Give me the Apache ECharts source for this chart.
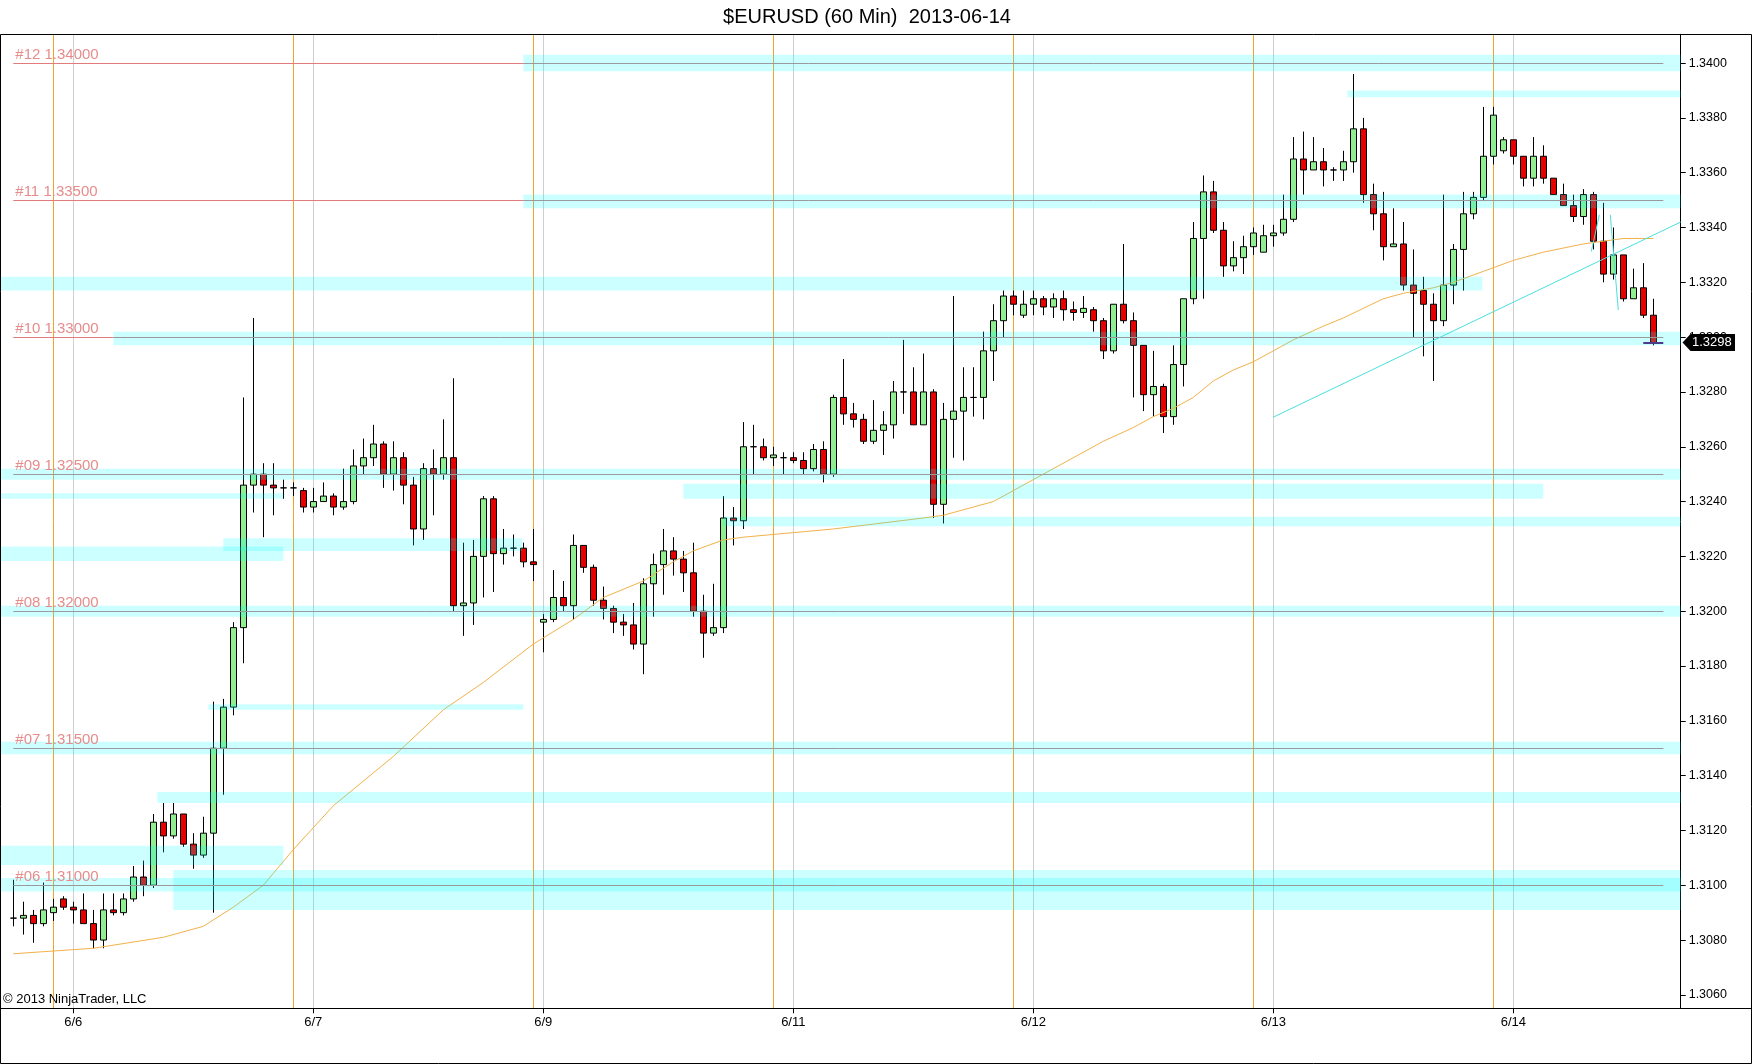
<!DOCTYPE html>
<html>
<head>
<meta charset="utf-8">
<script src="https://cdn.jsdelivr.net/npm/echarts@6/dist/echarts.min.js"></script>
<style>
html,body{margin:0;padding:0;background:#fff;}
#c{width:1752px;height:1064px;}
</style>
</head>
<body>
<div id="c"></div>
<script>
// ---------- DATA ----------
const opens = [1.3088,1.3088,1.3089,1.3086,1.3090,1.3095,1.3092,1.3091,1.3086,1.3080,
1.3091,1.3090,1.3095,1.3103,1.3100,1.3123,1.3118,1.3126,1.3115,1.3111,
1.3119,1.3150,1.3165,1.3194,1.3246,1.3250,1.3246,1.3245,1.3245,1.3244,
1.3238,1.3240,1.3242,1.3238,1.3240,1.3253,1.3256,1.3261,1.3250,1.3256,
1.3246,1.3230,1.3252,1.3250,1.3256,1.3202,1.3203,1.3220,1.3241,1.3221,
1.3223,1.3223,1.3218,1.3196,1.3197,1.3205,1.3202,1.3224,1.3216,1.3204,
1.3201,1.3196,1.3195,1.3188,1.3210,1.3217,1.3222,1.3219,1.3214,1.3200,
1.3192,1.3194,1.3234,1.3233,1.3260,1.3260,1.3256,1.3256,1.3256,1.3255,
1.3252,1.3259,1.3250,1.3278,1.3272,1.3270,1.3262,1.3266,1.3268,1.3280,
1.3280,1.3268,1.3280,1.3239,1.3270,1.3273,1.3278,1.3278,1.3295,1.3306,
1.3315,1.3308,1.3312,1.3314,1.3311,1.3314,1.3310,1.3309,1.3310,1.3306,
1.3295,1.3312,1.3306,1.3297,1.3279,1.3282,1.3271,1.3290,1.3314,1.3336,
1.3353,1.3339,1.3326,1.3329,1.3333,1.3331,1.3337,1.3338,1.3343,1.3365,
1.3361,1.3364,1.3361,1.3361,1.3364,1.3376,1.3352,1.3345,1.3333,1.3334,
1.3319,1.3317,1.3312,1.3306,1.3319,1.3332,1.3345,1.3351,1.3366,1.3368,
1.3372,1.3366,1.3358,1.3366,1.3358,1.3352,1.3348,1.3344,1.3352,1.3335,
1.3323,1.3330,1.3314,1.3318,1.3308];
const closes = [1.3088,1.3089,1.3086,1.3091,1.3092,1.3092,1.3091,1.3086,1.3080,1.3091,
1.3090,1.3095,1.3103,1.3100,1.3123,1.3118,1.3126,1.3115,1.3111,1.3119,
1.3150,1.3165,1.3194,1.3246,1.3250,1.3246,1.3245,1.3245,1.3245,1.3238,
1.3240,1.3242,1.3238,1.3240,1.3253,1.3256,1.3261,1.3250,1.3256,1.3246,
1.3230,1.3252,1.3250,1.3256,1.3202,1.3203,1.3220,1.3241,1.3221,1.3223,
1.3223,1.3218,1.3217,1.3197,1.3205,1.3202,1.3224,1.3216,1.3204,1.3201,
1.3196,1.3195,1.3188,1.3210,1.3217,1.3222,1.3219,1.3214,1.3200,1.3192,
1.3194,1.3234,1.3233,1.3260,1.3260,1.3256,1.3257,1.3256,1.3255,1.3252,
1.3259,1.3250,1.3278,1.3272,1.3270,1.3262,1.3266,1.3268,1.3280,1.3280,
1.3268,1.3280,1.3239,1.3270,1.3273,1.3278,1.3278,1.3295,1.3306,1.3315,
1.3312,1.3312,1.3314,1.3311,1.3314,1.3310,1.3309,1.33105,1.3306,1.3295,
1.3312,1.3306,1.3297,1.3279,1.3282,1.3271,1.3290,1.3314,1.3336,1.3353,
1.3339,1.3326,1.3329,1.3333,1.3338,1.3337,1.3338,1.3343,1.3365,1.3361,
1.3364,1.3361,1.3361,1.3364,1.3376,1.3352,1.3345,1.3333,1.3334,1.3319,
1.3316,1.3312,1.3306,1.3319,1.3332,1.3345,1.3351,1.3366,1.3381,1.3372,
1.3366,1.3358,1.3366,1.3358,1.3352,1.3348,1.3344,1.3352,1.3335,1.3323,
1.3330,1.3314,1.3318,1.3308,1.3298];
const lows = [1.3085,1.3082,1.3079,1.3085,1.3087,1.3091,1.3086,1.3086,1.3077,1.3077,
1.3089,1.3089,1.3094,1.3096,1.3099,1.3112,1.3117,1.3114,1.3106,1.3110,
1.3090,1.3133,1.3162,1.3181,1.3236,1.3227,1.3235,1.3241,1.3242,1.3236,
1.3236,1.3240,1.3235,1.3237,1.3239,1.3250,1.3253,1.3245,1.3244,1.3239,
1.3224,1.3226,1.3235,1.3248,1.3200,1.3191,1.3195,1.3205,1.3207,1.3217,
1.3220,1.3216,1.3211,1.3185,1.3196,1.3200,1.3197,1.3214,1.3202,1.3197,
1.3192,1.3191,1.3186,1.3177,1.3198,1.3206,1.3213,1.3207,1.3198,1.3183,
1.3191,1.3192,1.3224,1.3230,1.3250,1.3255,1.3253,1.3250,1.3254,1.3250,
1.3251,1.3247,1.3249,1.3268,1.3267,1.3261,1.3261,1.3257,1.3263,1.3272,
1.3268,1.3268,1.3234,1.3232,1.3256,1.3255,1.3271,1.3270,1.3284,1.3300,
1.3308,1.3307,1.3308,1.3308,1.3307,1.3306,1.3306,1.3307,1.3302,1.3292,
1.3294,1.3305,1.3278,1.3273,1.3271,1.3265,1.3268,1.3282,1.3312,1.3314,
1.3338,1.3322,1.3324,1.3323,1.3330,1.3331,1.3333,1.3337,1.3342,1.3352,
1.3361,1.3355,1.3357,1.3357,1.3360,1.3349,1.3339,1.3328,1.3333,1.3317,
1.3300,1.3293,1.3284,1.3304,1.3312,1.3317,1.3343,1.3350,1.3363,1.3367,
1.3363,1.3355,1.3355,1.3356,1.3352,1.3348,1.3342,1.3341,1.3332,1.3320,
1.3321,1.3313,1.3314,1.3307,1.3297];
const highs = [1.3102,1.3094,1.3091,1.3101,1.3095,1.3096,1.3094,1.3097,1.3091,1.3097,
1.3097,1.3097,1.3107,1.3109,1.3126,1.3130,1.3130,1.3126,1.3119,1.3125,
1.3167,1.3168,1.3196,1.3278,1.3307,1.3254,1.3254,1.3248,1.3247,1.3245,
1.3245,1.3247,1.3243,1.3252,1.3259,1.3263,1.3268,1.3262,1.3262,1.3258,
1.3249,1.3254,1.3259,1.3270,1.3285,1.3225,1.3226,1.3242,1.3242,1.3230,
1.3228,1.3225,1.3230,1.3199,1.3215,1.3211,1.3228,1.3224,1.3217,1.3209,
1.3202,1.3199,1.3203,1.3212,1.3221,1.3230,1.3227,1.3222,1.3225,1.3206,
1.3210,1.3242,1.3238,1.3269,1.3268,1.3263,1.3260,1.3258,1.3258,1.3258,
1.3261,1.3262,1.3279,1.3292,1.3276,1.3272,1.3277,1.3273,1.3284,1.3299,
1.3289,1.3294,1.3281,1.3276,1.3315,1.3289,1.3289,1.3302,1.3312,1.3317,
1.3317,1.3317,1.3317,1.3315,1.3316,1.3317,1.3313,1.3315,1.3311,1.3307,
1.3312,1.3334,1.3309,1.3297,1.3295,1.3283,1.3297,1.3314,1.3342,1.3359,
1.3357,1.3342,1.3335,1.3337,1.3340,1.3341,1.3341,1.3352,1.3373,1.3375,
1.3373,1.3369,1.3362,1.3368,1.3396,1.3380,1.3356,1.3353,1.3347,1.3342,
1.3332,1.3322,1.3316,1.3352,1.3334,1.3353,1.3353,1.3384,1.3384,1.3373,
1.3372,1.3366,1.3373,1.3370,1.3358,1.3356,1.3352,1.3354,1.3353,1.3349,
1.3340,1.3330,1.3325,1.3327,1.3314];

const barCount = 167;                       // 165 bars + 2 empty slots on the right
const dayTicks = ['6/6','6/7','6/9','6/11','6/12','6/13','6/14'];
const dayTickIndex = [6,30,53,78,102,126,150];
const sessionIndex = [4,28,52,76,100,124,148];
const priceTicks = [1.3060,1.3080,1.3100,1.3120,1.3140,1.3160,1.3180,1.3200,1.3220,
1.3240,1.3260,1.3280,1.3300,1.3320,1.3340,1.3360,1.3380,1.3400];

const maIndex = [0,8,15,19,22,25,28,32,38,43,47,52,56,59,63,66,68,71,73,82,91,93,98,103,109,112,114,116,118,120,122,124,126,128,131,133,137,139,142,144,147,150,153,157,159,161,164];
const maValue = [1.3075,1.3077,1.3081,1.3085,1.3092,1.3100,1.3113,1.3129,1.3147,1.3164,1.3174,1.3188,1.3197,1.3205,1.3211,1.3218,1.3222,1.3226,1.3227,1.3230,1.3234,1.3235,1.3240,1.3250,1.3262,1.3267,1.3271,1.3274,1.3278,1.3284,1.3288,1.3291,1.3295,1.3299,1.3304,1.3307,1.3314,1.3316,1.3318,1.3320,1.3324,1.3328,1.3331,1.3334,1.3335,1.3336,1.3336];

const levelNames = ['#12','#11','#10','#09','#08','#07','#06'];
const levelValues = [1.34,1.335,1.33,1.325,1.32,1.315,1.31];
const levelGrayFrom = [51,51,10,0,0,0,0];
const levelEnd = 165;

// zones: low, high, from bar, to bar (null = panel edge)
const bandLow  = [1.3397,1.33875,1.3347,1.3317,1.3297,1.3248,1.3241,1.3241,1.3231,1.3222,1.32183,1.3198,1.3164,1.31478,1.3130,1.31074,1.3091,1.30977];
const bandHigh = [1.3403,1.3390,1.3352,1.3322,1.3302,1.3252,1.3243,1.32465,1.32345,1.32266,1.32236,1.3202,1.3166,1.31524,1.3134,1.31144,1.31056,1.31026];
const bandFrom = [51,133.4,51,null,10,null,null,67,71,21,null,null,19.5,null,14.4,null,16,null];
const bandTo   = [null,null,null,146.9,null,null,27,153,null,50.9,27,null,51,null,null,27,null,null];

const trendStart = [126, 1.32708];
const trendEnd = [166.74, 1.33420];
const squiggles = [[[157.8,1.33312],[158.6,1.33446]],[[159.7,1.33446],[160.5,1.33099]]];

// ---------- CHART ----------
const FONT = '"Liberation Sans", Arial, sans-serif';
const chart = echarts.init(document.getElementById('c'));
const categories = Array.from({length: barCount}, (_, i) => 'b' + i);
const candleData = opens.map((o, i) => [o, closes[i], lows[i], highs[i]]);
const maData = new Array(barCount).fill(null);
maIndex.forEach((k, j) => { maData[k] = maValue[j]; });
const tickSet = new Set(dayTickIndex);
const labelMap = {};
dayTickIndex.forEach((k, j) => { labelMap[k] = dayTicks[j]; });

const RED = '#e27c7c', GRAY = '#9a9a9a';
const levelLines = [];
levelValues.forEach((v, k) => {
  const label = {show: true, formatter: levelNames[k] + ' ' + v.toFixed(5), position: 'insideStartTop',
    distance: [2, 1], color: '#e68c8c', fontSize: 15, fontFamily: FONT};
  const g = levelGrayFrom[k];
  if (g > 0) {
    levelLines.push([{coord: [0, v], lineStyle: {color: RED}, label: label}, {coord: [g, v]}]);
    levelLines.push([{coord: [g, v], lineStyle: {color: GRAY}, label: {show: false}}, {coord: [levelEnd, v]}]);
  } else {
    levelLines.push([{coord: [0, v], lineStyle: {color: GRAY}, label: label}, {coord: [levelEnd, v]}]);
  }
});
const lastClose = closes[closes.length - 1];
const lastIdx = closes.length - 1;

const vLines = sessionIndex.map(i => ({xAxis: i, lineStyle: {color: '#f0a22a', width: 1, type: 'solid'}}))
  .concat(dayTickIndex.map(i => ({xAxis: i, lineStyle: {color: '#cfcfcf', width: 1, type: 'solid'}})));

chart.setOption({
  animation: false,
  backgroundColor: '#fff',
  grid: {left: 8.3, right: 73.7, top: 34.3, bottom: 55.7, containLabel: false, outerBoundsMode: 'none'},
  xAxis: {
    type: 'category', data: categories, boundaryGap: true,
    axisLine: {show: true, lineStyle: {color: '#000', width: 1}},
    axisTick: {show: true, alignWithLabel: true, length: 5, interval: (i) => tickSet.has(i), lineStyle: {color: '#000'}},
    axisLabel: {show: true, interval: (i) => tickSet.has(i), formatter: (v, i) => labelMap[i] || '',
      color: '#000', fontSize: 13, fontFamily: FONT, margin: 8},
    splitLine: {show: false}
  },
  yAxis: {
    type: 'value', position: 'right', offset: 2.4, min: 1.30551, max: 1.34105, scale: true,
    axisLine: {show: true, lineStyle: {color: '#000', width: 1}},
    axisTick: {show: true, length: 5, customValues: priceTicks, lineStyle: {color: '#000'}},
    axisLabel: {show: true, customValues: priceTicks, formatter: (v) => v.toFixed(4), color: '#000',
      fontSize: 12.5, fontFamily: FONT, margin: 8},
    splitLine: {show: false}
  },
  series: [
    {
      id: 'vlines', type: 'line', data: [], silent: true,
      markLine: {silent: true, symbol: ['none', 'none'], z: 1, label: {show: false}, data: vLines}
    },
    {
      id: 'candles', type: 'candlestick', data: candleData, barWidth: 6, z: 2,
      itemStyle: {color: '#90ee90', color0: '#e60000', borderColor: '#000', borderColor0: '#000',
        borderColorDoji: '#000', borderWidth: 1}
    },
    {
      id: 'ma', type: 'line', data: maData, connectNulls: true, symbol: 'none', smooth: false, z: 3,
      lineStyle: {color: '#f2b24a', width: 1}, silent: true
    },
    {
      id: 'bands', type: 'line', data: [], silent: true,
      markArea: {silent: true, z: 4, itemStyle: {color: 'rgba(0,255,255,0.2)'}, data: []}
    },
    {
      id: 'levels', type: 'line', data: [], silent: true,
      markLine: {silent: true, symbol: ['none', 'none'], z: 5, lineStyle: {width: 1, type: 'solid'},
        data: levelLines.concat([[{coord: [lastIdx - 1, lastClose], lineStyle: {color: '#4b3c8c', width: 2}, label: {show: false}}, {coord: [lastIdx + 1, lastClose]}]])}
    },
    {
      id: 'trend', type: 'line', data: [], silent: true,
      markLine: {silent: true, symbol: ['none', 'none'], z: 6, label: {show: false},
        lineStyle: {color: '#49e0e0', width: 1, type: 'solid'}, data: []}
    }
  ]
});

// second pass: positions through the axis scale
const p0 = chart.convertToPixel({xAxisIndex: 0}, 0);
const p1 = chart.convertToPixel({xAxisIndex: 0}, 1);
const xpx = (i) => p0 + (p1 - p0) * i;
const PLOT_L = 1, PLOT_R = 1680.7;
const areaData = bandLow.map((lo, k) => [
  {x: bandFrom[k] == null ? PLOT_L : xpx(bandFrom[k]), yAxis: bandHigh[k]},
  {x: bandTo[k] == null ? PLOT_R : xpx(bandTo[k]), yAxis: lo}
]);
const trendData = [[{x: xpx(trendStart[0]), yAxis: trendStart[1]}, {x: xpx(trendEnd[0]), yAxis: trendEnd[1]}]]
  .concat(squiggles.map(s => [{x: xpx(s[0][0]), yAxis: s[0][1]}, {x: xpx(s[1][0]), yAxis: s[1][1]}]));
const yLast = chart.convertToPixel({yAxisIndex: 0}, lastClose);

chart.setOption({
  series: [
    {id: 'bands', markArea: {data: areaData}},
    {id: 'trend', markLine: {data: trendData}}
  ],
  graphic: [
    {type: 'rect', silent: true, z: 100, shape: {x: 0.5, y: 34.5, width: 1751, height: 1029},
      style: {fill: 'none', stroke: '#000', lineWidth: 1}},
    {type: 'line', silent: true, z: 100, shape: {x1: 0, y1: 1008.5, x2: 1752, y2: 1008.5},
      style: {stroke: '#000', lineWidth: 1}},
    {type: 'text', silent: true, z: 100, x: 867, y: 17,
      style: {text: '$EURUSD (60 Min)  2013-06-14', fill: '#000', font: '20px ' + FONT,
        textAlign: 'center', align: 'center', textVerticalAlign: 'middle', verticalAlign: 'middle'}},
    {type: 'text', silent: true, z: 100, x: 3, y: 1006,
      style: {text: '\u00a9 2013 NinjaTrader, LLC', fill: '#000', font: '13px ' + FONT,
        textAlign: 'left', align: 'left', textVerticalAlign: 'bottom', verticalAlign: 'bottom'}},
    {type: 'polygon', silent: true, z: 101,
      shape: {points: [[1682.5, yLast], [1690.5, yLast - 8.5], [1735, yLast - 8.5], [1735, yLast + 8.5], [1690.5, yLast + 8.5]]},
      style: {fill: '#000'}},
    {type: 'text', silent: true, z: 102, x: 1692, y: yLast,
      style: {text: lastClose.toFixed(4), fill: '#fff', font: '13px ' + FONT,
        textAlign: 'left', align: 'left', textVerticalAlign: 'middle', verticalAlign: 'middle'}}
  ]
});
</script>
</body>
</html>
